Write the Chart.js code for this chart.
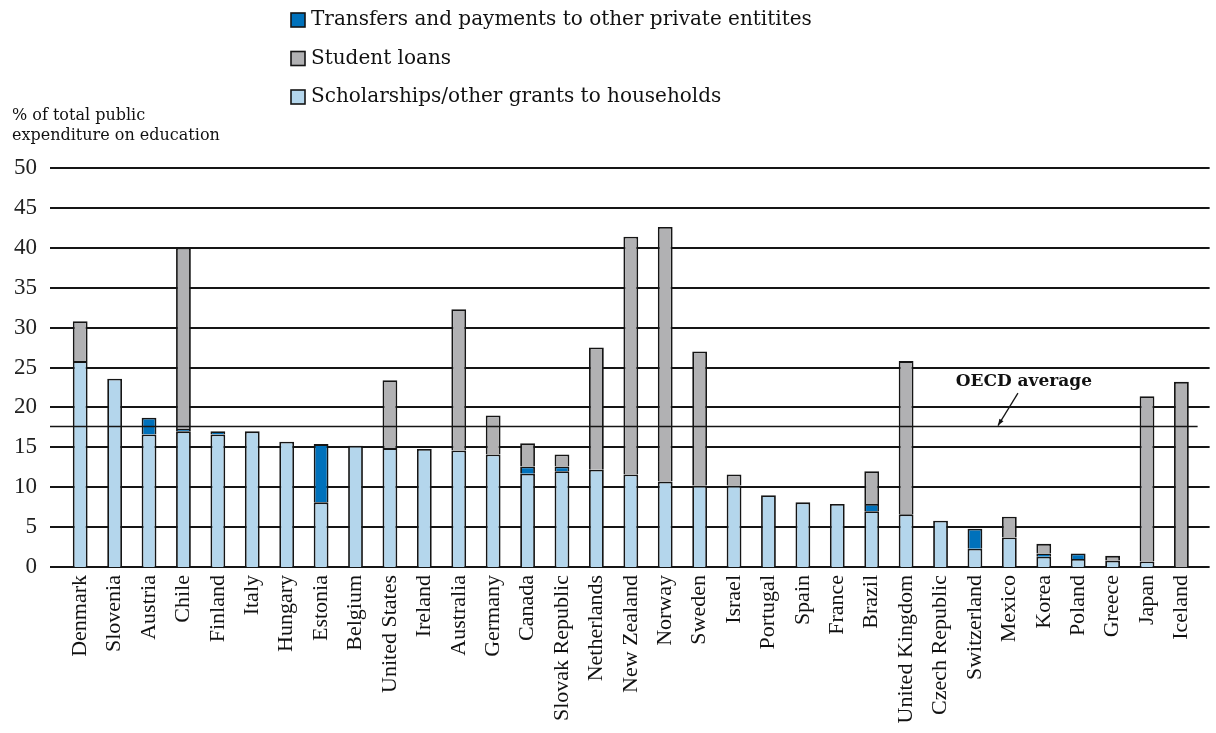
<!DOCTYPE html>
<html>
<head>
<meta charset="utf-8">
<script src="https://cdn.jsdelivr.net/npm/chart.js@4/dist/chart.umd.min.js"></script>
<style>
html,body{margin:0;padding:0;background:#fff;}
#wrap{width:1216px;height:733px;position:relative;}
</style>
</head>
<body>
<div id="wrap"><canvas id="c"></canvas></div>
<script>
// ---- data ----
const categories = ["Denmark","Slovenia","Austria","Chile","Finland","Italy","Hungary","Estonia","Belgium","United States","Ireland","Australia","Germany","Canada","Slovak Republic","Netherlands","New Zealand","Norway","Sweden","Israel","Portugal","Spain","France","Brazil","United Kingdom","Czech Republic","Switzerland","Mexico","Korea","Poland","Greece","Japan","Iceland"];
const scholarships = [25.8,23.6,16.6,17.0,16.6,17.0,15.7,8.1,15.2,14.9,14.8,14.6,14.1,11.7,12.0,12.2,11.6,10.7,10.2,10.2,9.0,8.1,7.9,7.0,6.6,5.8,2.3,3.7,1.3,1.0,0.8,0.7,0];
const transfers    = [0,0,2.1,0.3,0.4,0,0,7.3,0,0,0,0,0,0.9,0.6,0,0,0,0,0,0,0,0,0.9,0,0,2.5,0,0.4,0.7,0,0,0];
const loans        = [5.0,0,0,22.7,0,0,0,0,0,8.5,0,17.7,4.9,2.9,1.5,15.3,29.8,31.9,16.8,1.4,0,0,0,4.1,19.2,0,0,2.6,1.2,0,0.6,20.7,23.2];
const seriesNames = ["Scholarships/other grants to households","Transfers and payments to other private entitites","Student loans"];
const legendOrder = [1,2,0];
const yMin = 0, yMax = 50, yStep = 5;
const oecdAverage = 17.6;
const oecdLabel = "OECD average";
const yTitleLines = ["% of total public","expenditure on education"];

const fillColors = ["#b4d6ec","#0071bb","#b1b1b3"];
const edge = "#151515";

const decor = {
  id: 'decor',
  beforeDatasetsDraw(chart) {
    const {ctx, chartArea, scales: {y}} = chart;
    ctx.save();
    ctx.strokeStyle = edge;
    ctx.lineWidth = 2;
    y.ticks.forEach(t => {
      const py = Math.round(y.getPixelForValue(t.value));
      ctx.beginPath();
      ctx.moveTo(chartArea.left - 13, py);
      ctx.lineTo(chartArea.right + 11, py);
      ctx.stroke();
    });
    ctx.restore();
  },
  afterDatasetsDraw(chart) {
    const {ctx, chartArea, scales: {x, y}} = chart;
    ctx.save();
    // OECD average line
    const py = y.getPixelForValue(oecdAverage);
    ctx.strokeStyle = edge;
    ctx.lineWidth = 1.5;
    ctx.beginPath();
    ctx.moveTo(chartArea.left - 13, py);
    ctx.lineTo(chartArea.right - 1, py);
    ctx.stroke();
    // label + arrow
    const step = x.getPixelForValue(1) - x.getPixelForValue(0);
    const tx = x.getPixelForValue(27) + 0.42 * step;
    const ty = y.getPixelForValue(23.2);
    ctx.fillStyle = "#111";
    ctx.font = "bold 17px 'DejaVu Serif'";
    ctx.textAlign = "center";
    ctx.textBaseline = "middle";
    ctx.fillText(oecdLabel, tx, ty);
    const ax0 = x.getPixelForValue(27) + 0.25 * step, ay0 = y.getPixelForValue(21.8);
    const ax1 = x.getPixelForValue(27) - 0.33 * step, ay1 = py - 1;
    ctx.lineWidth = 1.3;
    ctx.beginPath(); ctx.moveTo(ax0, ay0); ctx.lineTo(ax1, ay1); ctx.stroke();
    const ang = Math.atan2(ay1 - ay0, ax1 - ax0);
    ctx.beginPath();
    ctx.moveTo(ax1, ay1);
    ctx.lineTo(ax1 - 7 * Math.cos(ang - 0.35), ay1 - 7 * Math.sin(ang - 0.35));
    ctx.lineTo(ax1 - 7 * Math.cos(ang + 0.35), ay1 - 7 * Math.sin(ang + 0.35));
    ctx.closePath();
    ctx.fill();
    ctx.restore();
  },
  afterDraw(chart) {
    const {ctx} = chart;
    ctx.save();
    // legend
    ctx.font = "20px 'DejaVu Serif'";
    ctx.textBaseline = "middle";
    ctx.textAlign = "left";
    legendOrder.forEach((di, i) => {
      const ds = chart.data.datasets[di];
      const cy = 20 + i * 38.5;
      ctx.fillStyle = ds.backgroundColor;
      ctx.fillRect(291, cy - 7, 14, 14);
      ctx.strokeStyle = edge;
      ctx.lineWidth = 1.6;
      ctx.strokeRect(291, cy - 7, 14, 14);
      ctx.fillStyle = "#111";
      ctx.fillText(ds.label, 311, cy);
    });
    // y title
    ctx.font = "16px 'DejaVu Serif'";
    ctx.fillStyle = "#111";
    yTitleLines.forEach((t, i) => ctx.fillText(t, 12, 116 + i * 20));
    ctx.restore();
  }
};

const mk = (label, data, color) => ({
  label, data,
  backgroundColor: color,
  borderColor: edge,
  borderWidth: 1.8,
  borderSkipped: 'start',
  categoryPercentage: 1.0,
  barPercentage: 0.43
});

new Chart(document.getElementById('c'), {
  type: 'bar',
  data: {
    labels: categories,
    datasets: [
      mk(seriesNames[0], scholarships, fillColors[0]),
      mk(seriesNames[1], transfers, fillColors[1]),
      mk(seriesNames[2], loans, fillColors[2])
    ]
  },
  options: {
    responsive: true,
    maintainAspectRatio: false,
    animation: false,
    devicePixelRatio: 1,
    layout: { padding: { top: 168, right: 12, left: 0, bottom: 0 } },
    plugins: { legend: { display: false }, tooltip: { enabled: false } },
    scales: {
      x: {
        stacked: true,
        grid: { display: false, drawTicks: false },
        border: { display: false },
        ticks: {
          autoSkip: false, minRotation: 90, maxRotation: 90, padding: 8,
          color: "#111", font: { family: "'Liberation Serif'", size: 22 }
        },
        afterFit(s) { s.height = 166; }
      },
      y: {
        stacked: true,
        min: yMin, max: yMax,
        grid: { display: false, drawTicks: false },
        border: { display: false },
        ticks: {
          stepSize: yStep, padding: 26,
          color: "#222", font: { family: "'Liberation Serif'", size: 23 }
        },
        afterFit(s) { s.width = 63; }
      }
    }
  },
  plugins: [decor]
});
</script>
</body>
</html>
